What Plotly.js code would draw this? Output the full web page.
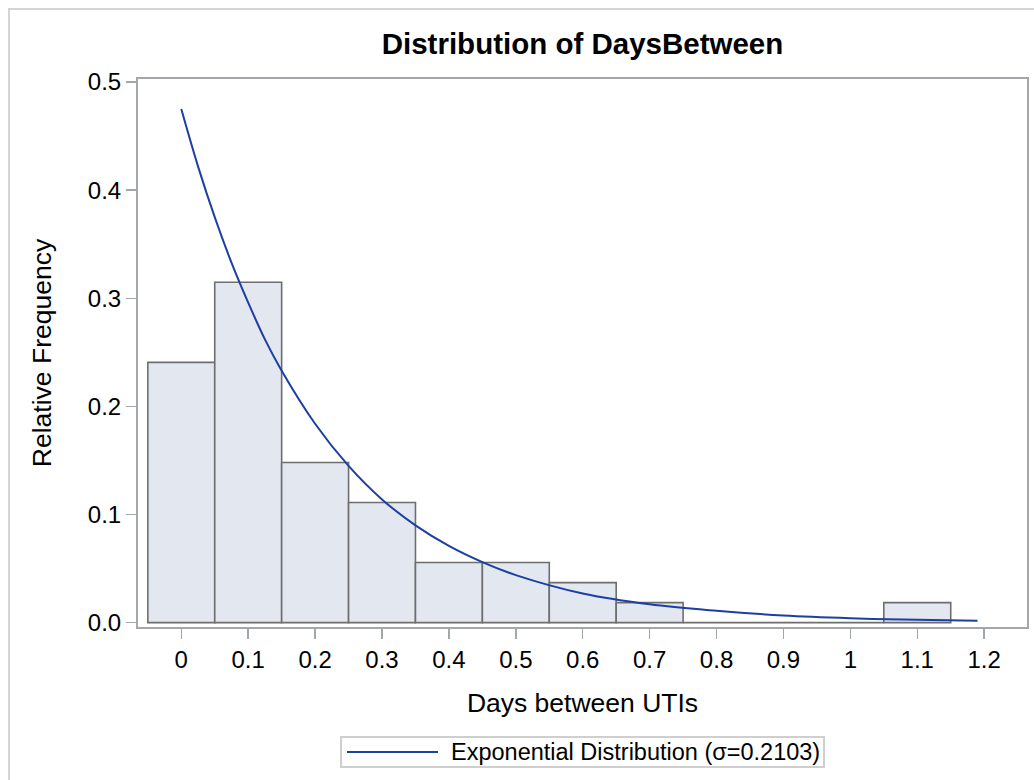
<!DOCTYPE html>
<html>
<head>
<meta charset="utf-8">
<script src="https://cdn.plot.ly/plotly-3.0.1.min.js"></script>
<style>
  html, body { margin: 0; padding: 0; overflow: hidden; background: #fff; }
  #chart { width: 1034px; height: 780px; position: absolute; left: 0; top: 0; }
  #frame { position: absolute; left: 8px; top: 8px; width: 1100px; height: 900px;
           border: 2px solid #d4d4d4; pointer-events: none; box-sizing: border-box; }
</style>
</head>
<body>
<div id="chart"></div>
<div id="frame"></div>
<script>
// Histogram bins (midpoints) and relative frequencies
const binMidpoints = [0, 0.1, 0.2, 0.3, 0.4, 0.5, 0.6, 0.7, 0.8, 0.9, 1.0, 1.1];
const relFreq = [0.2407, 0.3148, 0.1481, 0.1111, 0.0556, 0.0556, 0.0370, 0.0185, 0, 0, 0, 0.0185];

// Fitted exponential curve
const curveX = [0, 0.025, 0.05, 0.075, 0.1, 0.125, 0.15, 0.2, 0.25, 0.3, 0.35, 0.4, 0.45, 0.5, 0.6, 0.7, 0.8, 0.9, 1.0, 1.1, 1.19];
const curveY = [0.475, 0.422, 0.375, 0.333, 0.296, 0.262, 0.233, 0.184, 0.145, 0.114, 0.090, 0.071, 0.056, 0.044, 0.027, 0.017, 0.011, 0.0066, 0.0041, 0.0026, 0.0017];

const xTickVals = [0, 0.1, 0.2, 0.3, 0.4, 0.5, 0.6, 0.7, 0.8, 0.9, 1.0, 1.1, 1.2];
const xTickText = ["0", "0.1", "0.2", "0.3", "0.4", "0.5", "0.6", "0.7", "0.8", "0.9", "1", "1.1", "1.2"];
const yTickVals = [0, 0.1, 0.2, 0.3, 0.4, 0.5];
const yTickText = ["0.0", "0.1", "0.2", "0.3", "0.4", "0.5"];

const titleText = "Distribution of DaysBetween";
const xTitle = "Days between UTIs";
const yTitle = "Relative Frequency";
const legendText = "Exponential Distribution (σ=0.2103)";

const FONT = '"Liberation Sans", Arial, Helvetica, sans-serif';
const AXIS = '#a3a6aa';

const bars = {
  type: 'bar',
  x: binMidpoints,
  y: relFreq,
  width: 0.1,
  marker: { color: '#e3e7f0', line: { color: '#6e6e6e', width: 1.6 } },
  showlegend: false,
  hoverinfo: 'x+y'
};

const curve = {
  type: 'scatter',
  mode: 'lines',
  x: curveX,
  y: curveY,
  line: { color: '#1b3fa3', width: 2, shape: 'spline', smoothing: 1 },
  showlegend: false
};

// plot area in px: left 138, right 1027, top 79, bottom 627
const L = 138, R = 1027, T = 79, B = 627;
const px = v => (v - L) / (R - L);
const py = v => (B - v) / (B - T);

const layout = {
  width: 1034,
  height: 780,
  margin: { l: L, r: 1034 - R, t: T, b: 780 - B, pad: 0 },
  paper_bgcolor: 'rgba(0,0,0,0)',
  plot_bgcolor: '#ffffff',
  font: { family: FONT, color: '#000' },
  title: {
    text: titleText,
    font: { family: FONT, size: 29.5, weight: 'bold', color: '#000' },
    xref: 'paper', x: 0.5, xanchor: 'center',
    yref: 'container', y: 1 - 44 / 780, yanchor: 'middle'
  },
  bargap: 0,
  xaxis: {
    range: [-0.0647, 1.264],
    tickvals: xTickVals,
    ticktext: xTickText,
    ticks: 'outside', ticklen: 10, tickwidth: 1.5, tickcolor: AXIS,
    showline: true, mirror: true, linecolor: AXIS, linewidth: 2,
    showgrid: false, zeroline: false,
    tickfont: { size: 24, family: FONT, color: '#000' },
    title: { text: xTitle, font: { size: 26.5, family: FONT, color: '#000' }, standoff: 22 }
  },
  yaxis: {
    range: [-0.0040, 0.5028],
    tickvals: yTickVals,
    ticktext: yTickText,
    ticks: 'outside', ticklen: 10, tickwidth: 1.5, tickcolor: AXIS,
    showline: true, mirror: true, linecolor: AXIS, linewidth: 2,
    showgrid: false, zeroline: false,
    tickfont: { size: 24, family: FONT, color: '#000' },
    title: { text: yTitle, font: { size: 26.5, family: FONT, color: '#000' }, standoff: 29 }
  },
  shapes: [
    { type: 'rect', xref: 'paper', yref: 'paper',
      x0: px(341), x1: px(824), y0: py(767), y1: py(737),
      line: { color: '#cfcfcf', width: 2 }, fillcolor: 'rgba(0,0,0,0)' },
    { type: 'line', xref: 'paper', yref: 'paper',
      x0: px(347), x1: px(438), y0: py(752), y1: py(752),
      line: { color: '#1b3fa3', width: 2 } }
  ],
  annotations: [
    { xref: 'paper', yref: 'paper', x: px(449), y: py(752),
      xanchor: 'left', yanchor: 'middle', showarrow: false,
      text: legendText, font: { size: 23.5, family: FONT, color: '#000' } }
  ],
  showlegend: false
};

Plotly.newPlot('chart', [bars, curve], layout, { displayModeBar: false, staticPlot: true });
</script>
</body>
</html>
